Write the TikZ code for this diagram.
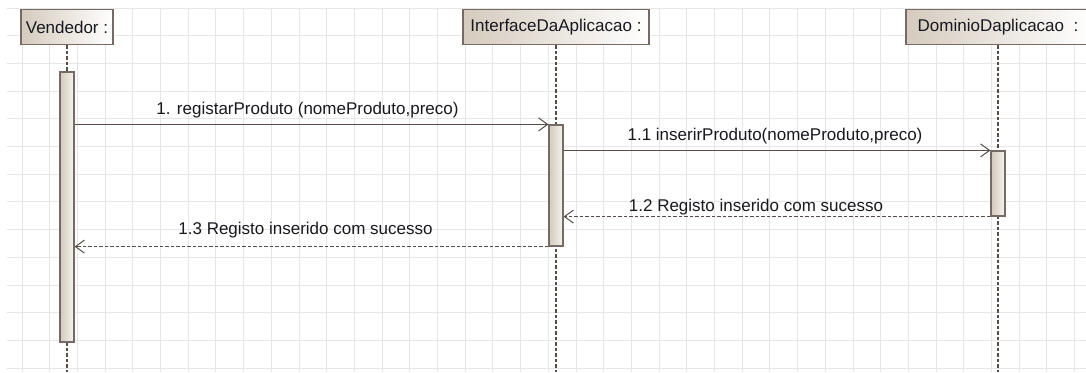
\documentclass[tikz,border=0pt]{standalone}
\usepackage{fontspec}
\setmainfont{Liberation Sans}
\usepackage{tikz}
\usetikzlibrary{arrows.meta,positioning,calc}
\definecolor{Frame}{HTML}{756B64}
\definecolor{Tan}{HTML}{D5CBBE}
\definecolor{BarTan}{HTML}{D3CABD}
\definecolor{BarLight}{HTML}{F6F3EF}
\definecolor{Wire}{HTML}{564D48}
\definecolor{Ink}{HTML}{18181F}
\definecolor{Grid}{HTML}{E6E6E6}
\tikzset{
  every node/.append style={text=Ink, font=\fontsize{17}{20}\selectfont},
  hdr/.style={draw=Frame, line width=1.3pt, left color=Tan, right color=white,
              minimum height=35pt, inner xsep=5pt, anchor=center},
  actbar/.style={draw=Frame, line width=1.2pt, left color=BarTan, right color=BarLight,
                 minimum width=14pt, inner sep=0pt},
  lifeline/.style={draw=Wire, line width=1.3pt, dash pattern=on 3.5pt off 2pt},
  msg/.style={-{Straight Barb[length=9pt,width=13pt,line width=1pt]}, line width=1.2pt, draw=Wire},
  reply/.style={msg, line width=1.3pt, dash pattern=on 3.5pt off 2pt},
  lbl/.style={anchor=base, inner sep=0pt},
  gridline/.style={draw=Grid, line width=1pt},
}
\begin{document}
\begin{tikzpicture}[x=1pt, y=-1pt]
  \useasboundingbox[fill=white] (0,0) rectangle (1086,372);
  % background grid
  \begin{scope}[shift={(22,8)}]
    \draw[gridline, step=27.7pt] (-15,0) grid (1064,364);
  \end{scope}
  % lifeline heads
  \node[hdr, minimum width=92pt] (hVend) at (67,27) {Vendedor :};
  \node[hdr, minimum width=186pt] (hIface) at (556,27) {InterfaceDaAplicacao :};
  \node[hdr, minimum width=184pt] (hDom) at (998,27) {DominioDaplicacao~~:};
  \coordinate (endVend) at (67,372);
  \coordinate (endIface) at (556,372);
  \coordinate (endDom) at (998,372);
  \draw[lifeline] (hVend) -- (endVend);
  \draw[lifeline] (hIface) -- (endIface);
  \draw[lifeline] (hDom) -- (endDom);
  % activations
  \node[actbar, minimum height=270pt] (aVend) at (67,207) {};
  \node[actbar, minimum height=121pt] (aIface) at (556,185.5) {};
  \node[actbar, minimum height=65pt] (aDom) at (998,183.5) {};
  % messages
  \draw[msg] (aVend.east |- aIface.north) -- (aIface.north west)
    node[lbl, midway, yshift=10pt, xshift=-4pt] {1. registarProduto (nomeProduto,preco)};
  \draw[msg] (aIface.east |- aDom.north) -- (aDom.north west)
    node[lbl, midway, yshift=10pt, xshift=-2pt] {1.1 inserirProduto(nomeProduto,preco)};
  \draw[reply] (aDom.south west) -- (aIface.east |- aDom.south)
    node[lbl, midway, yshift=5pt, xshift=-21pt] {1.2 Registo inserido com sucesso};
  \draw[reply] (aIface.south west) -- (aVend.east |- aIface.south)
    node[lbl, midway, yshift=12pt, xshift=-6pt] {1.3 Registo inserido com sucesso};
\end{tikzpicture}
\end{document}
